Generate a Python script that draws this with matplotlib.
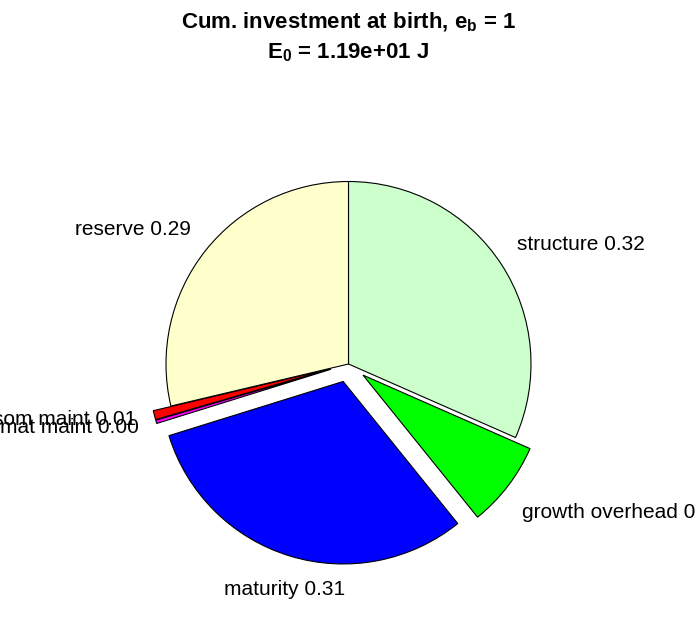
import matplotlib
matplotlib.use('Agg')
import matplotlib.pyplot as plt
import matplotlib.transforms as mtransforms
import numpy as np

categories = ['structure', 'growth overhead', 'maturity', 'mat maint', 'som maint', 'reserve']
fractions = [0.316, 0.076, 0.310, 0.003, 0.008, 0.287]
explode = [0, 0.1, 0.1, 0.1, 0.1, 0]
colors = ['#CCFFCC', '#00FF00', '#0000FF', '#FF00FF', '#FF0000', '#FFFFCC']
title_line1 = r'Cum. investment at birth, $\mathbf{e}_\mathbf{b}$ = 1'
title_line2 = r'$\mathbf{E}_\mathbf{0}$ = 1.19e+01 J'

plt.rcParams['font.family'] = ['Liberation Sans', 'DejaVu Sans']
plt.rcParams['mathtext.fontset'] = 'custom'
plt.rcParams['mathtext.rm'] = 'Liberation Sans'
plt.rcParams['mathtext.bf'] = 'Liberation Sans:bold'
plt.rcParams['mathtext.it'] = 'Liberation Sans:italic'

W, H = 696, 618
fig = plt.figure(figsize=(W / 100, H / 100), dpi=100)
cx, cy, r = 348.5, 364, 182.5
lim = 1.4
size = 2 * lim * r
ax = fig.add_axes([(cx - size / 2) / W, (H - cy - size / 2) / H, size / W, size / H])

labels = [f'{c} {v:.2f}' for c, v in zip(categories, fractions)]
wedges, texts = ax.pie(fractions, explode=explode, labels=labels, colors=colors,
                       startangle=90, counterclock=False, labeldistance=1.1,
                       wedgeprops=dict(edgecolor='black', linewidth=0.8),
                       textprops=dict(fontsize=15))
ax.set_xlim(-lim, lim)
ax.set_ylim(-lim, lim)
ax.set_aspect('equal')
ax.axis('off')

down = mtransforms.ScaledTranslation(0, -6 / 100, fig.dpi_scale_trans)
for w, t in zip(wedges, texts):
    ang = np.deg2rad((w.theta1 + w.theta2) / 2)
    s, c = np.sin(ang), np.cos(ang)
    if abs(c) < 0.35:
        t.set_ha('center')
    if s > 0.3:
        t.set_va('bottom')
    elif s < -0.3:
        t.set_va('top')
        t.set_transform(t.get_transform() + down)
    else:
        t.set_va('center')
    t.set_clip_on(False)

fig.text(cx / W, 1 - 28 / H, title_line1, ha='center', va='baseline',
         fontsize=16, fontweight='bold')
fig.text(cx / W, 1 - 58 / H, title_line2, ha='center', va='baseline',
         fontsize=16, fontweight='bold')

fig.savefig('out.png', dpi=100)
